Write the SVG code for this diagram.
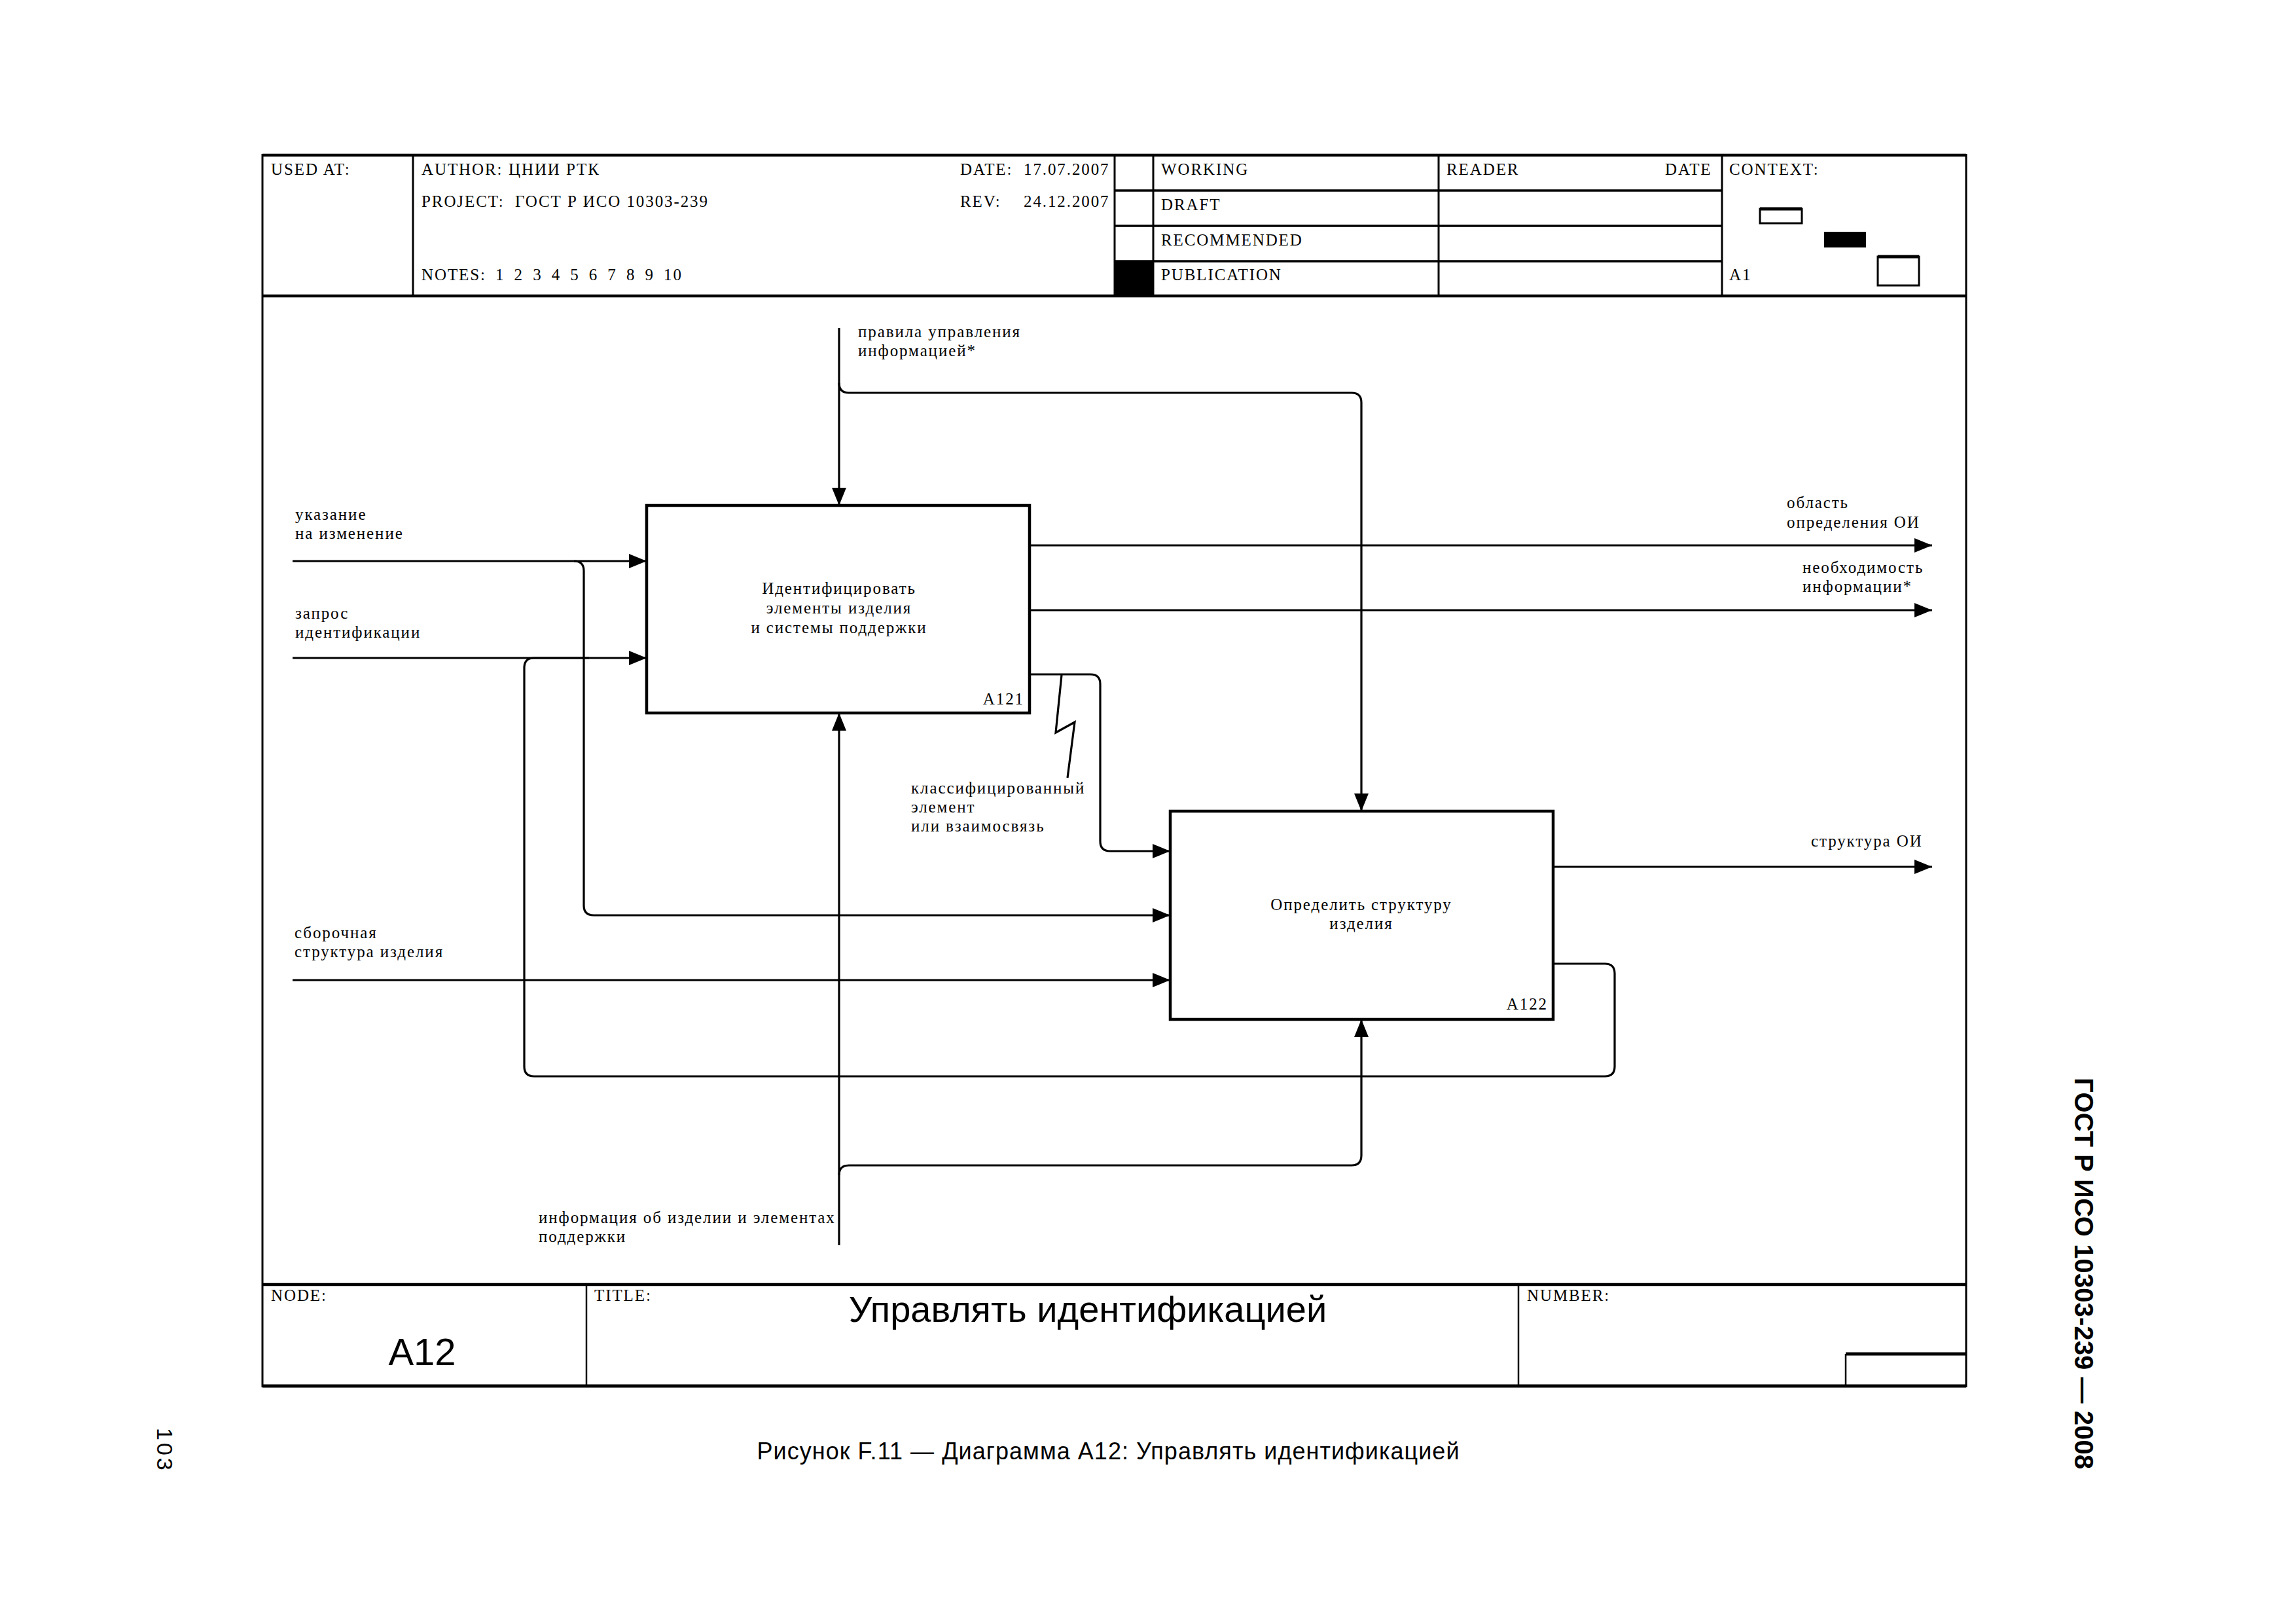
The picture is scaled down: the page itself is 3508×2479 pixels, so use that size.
<svg xmlns="http://www.w3.org/2000/svg" width="3508" height="2479" viewBox="0 0 3508 2479">
<style>
.t{font-family:"Liberation Serif","Times New Roman",serif;font-size:25px;letter-spacing:1.9px;fill:#000}
.m{text-anchor:middle}
.e{text-anchor:end}
.sans{font-family:"Liberation Sans",Arial,sans-serif;fill:#000}
.ln{stroke:#000;fill:none}
.c{fill:none;stroke:#000;stroke-width:3.2}
.box{fill:#fff;stroke:#000;stroke-width:4.5}
</style>
<defs>
<marker id="ah" markerUnits="userSpaceOnUse" markerWidth="27" markerHeight="22" refX="27" refY="11" orient="auto">
<path d="M0,0 L27,11 L0,22 z" fill="#000"/>
</marker>
</defs>
<rect width="3508" height="2479" fill="#fff"/>

<g id="frame">
<line class="ln" x1="401" y1="237" x2="3004" y2="237" stroke-width="4.5"/>
<line class="ln" x1="401" y1="452" x2="3004" y2="452" stroke-width="4.5"/>
<line class="ln" x1="401" y1="1962" x2="3004" y2="1962" stroke-width="4.5"/>
<line class="ln" x1="401" y1="2117" x2="3004" y2="2117" stroke-width="5"/>
<line class="ln" x1="401" y1="235" x2="401" y2="2119" stroke-width="3"/>
<line class="ln" x1="3004" y1="235" x2="3004" y2="2119" stroke-width="3"/>
<line class="ln" x1="631" y1="237" x2="631" y2="452" stroke-width="3"/>
<line class="ln" x1="1703" y1="237" x2="1703" y2="452" stroke-width="3"/>
<line class="ln" x1="1762" y1="237" x2="1762" y2="452" stroke-width="3"/>
<line class="ln" x1="2198" y1="237" x2="2198" y2="452" stroke-width="3"/>
<line class="ln" x1="2631" y1="237" x2="2631" y2="452" stroke-width="3"/>
<line class="ln" x1="1703" y1="291" x2="2631" y2="291" stroke-width="3.5"/>
<line class="ln" x1="1703" y1="345" x2="2631" y2="345" stroke-width="3.5"/>
<line class="ln" x1="1703" y1="399" x2="2631" y2="399" stroke-width="3.5"/>
<rect x="1703" y="399" width="59" height="53" fill="#000"/>
<rect x="2689" y="319" width="64" height="22" fill="none" stroke="#000" stroke-width="3"/>
<line class="ln" x1="2689" y1="319" x2="2753" y2="319" stroke-width="5"/>
<rect x="2787" y="354" width="64" height="24" fill="#000"/>
<rect x="2869" y="392" width="63" height="44" fill="none" stroke="#000" stroke-width="3"/>
<line class="ln" x1="2869" y1="392" x2="2932" y2="392" stroke-width="5"/>
<line class="ln" x1="896" y1="1962" x2="896" y2="2117" stroke-width="2.5"/>
<line class="ln" x1="2320" y1="1962" x2="2320" y2="2117" stroke-width="2.5"/>
<line class="ln" x1="2820" y1="2068" x2="2820" y2="2117" stroke-width="2.5"/>
<line class="ln" x1="2820" y1="2068" x2="3004" y2="2068" stroke-width="5"/>

<text class="t" x="414" y="267">USED AT:</text>
<text class="t" x="644" y="267">AUTHOR:</text>
<text class="t" x="777" y="267">ЦНИИ РТК</text>
<text class="t" x="644" y="316">PROJECT:</text>
<text class="t" x="787" y="316">ГОСТ Р ИСО 10303-239</text>
<text class="t" x="644" y="428" word-spacing="6">NOTES: 1 2 3 4 5 6 7 8 9 10</text>
<text class="t" x="1467" y="267">DATE:</text>
<text class="t" x="1564" y="267">17.07.2007</text>
<text class="t" x="1467" y="316">REV:</text>
<text class="t" x="1564" y="316">24.12.2007</text>
<text class="t" x="1774" y="267">WORKING</text>
<text class="t" x="1774" y="321">DRAFT</text>
<text class="t" x="1774" y="375">RECOMMENDED</text>
<text class="t" x="1774" y="428">PUBLICATION</text>
<text class="t" x="2210" y="267">READER</text>
<text class="t" x="2544" y="267">DATE</text>
<text class="t" x="2642" y="267">CONTEXT:</text>
<text class="t" x="2642" y="428">A1</text>
<text class="t" x="414" y="1987">NODE:</text>
<text class="t" x="908" y="1987">TITLE:</text>
<text class="t" x="2333" y="1987">NUMBER:</text>
<text class="sans m" x="645" y="2085" font-size="58">A12</text>
<text class="sans m" x="1662" y="2019" font-size="56">Управлять идентификацией</text>
</g>

<g id="A121">
<rect class="box" x="988" y="772" width="585" height="317"/>
<text class="t m" x="1282" y="907">Идентифицировать</text>
<text class="t m" x="1282" y="937">элементы изделия</text>
<text class="t m" x="1282" y="967">и системы поддержки</text>
<text class="t e" x="1565" y="1076">A121</text>
</g>

<g id="A122">
<rect class="box" x="1788" y="1239" width="585" height="318"/>
<text class="t m" x="2080" y="1390">Определить структуру</text>
<text class="t m" x="2080" y="1419">изделия</text>
<text class="t e" x="2365" y="1542">A122</text>
</g>

<g id="connectors">
<path class="c" d="M1282,501 V772" marker-end="url(#ah)"/>
<path class="c" d="M1282,585 Q1282,600 1297,600 H2065 Q2080,600 2080,615 V1239" marker-end="url(#ah)"/>
<path class="c" d="M1573,833 H2952" marker-end="url(#ah)"/>
<path class="c" d="M1573,932 H2952" marker-end="url(#ah)"/>
<path class="c" d="M1573,1030 H1666 Q1681,1030 1681,1045 V1285 Q1681,1300 1696,1300 H1788" marker-end="url(#ah)"/>
<path class="c" d="M1622,1031 L1613,1119 L1642,1103 L1631,1188" stroke-width="2.5"/>
<path class="c" d="M447,857 H988" marker-end="url(#ah)"/>
<path class="c" d="M877,857 Q892,857 892,872 V1383 Q892,1398 907,1398 H1788" marker-end="url(#ah)"/>
<path class="c" d="M447,1005 H988" marker-end="url(#ah)"/>
<path class="c" d="M2373,1472 H2452 Q2467,1472 2467,1487 V1629 Q2467,1644 2452,1644 H816 Q801,1644 801,1629 V1020 Q801,1005 816,1005 H900"/>
<path class="c" d="M447,1497 H1788" marker-end="url(#ah)"/>
<path class="c" d="M2373,1324 H2952" marker-end="url(#ah)"/>
<path class="c" d="M1282,1902 V1089" marker-end="url(#ah)"/>
<path class="c" d="M1282,1795 Q1282,1780 1297,1780 H2065 Q2080,1780 2080,1765 V1557" marker-end="url(#ah)"/>

<text class="t" x="451" y="794">указание</text>
<text class="t" x="451" y="823">на изменение</text>
<text class="t" x="451" y="945">запрос</text>
<text class="t" x="451" y="974">идентификации</text>
<text class="t" x="1311" y="515">правила управления</text>
<text class="t" x="1311" y="544">информацией*</text>
<text class="t" x="2730" y="776">область</text>
<text class="t" x="2730" y="806">определения ОИ</text>
<text class="t" x="2754" y="875">необходимость</text>
<text class="t" x="2754" y="904">информации*</text>
<text class="t" x="1392" y="1212">классифицированный</text>
<text class="t" x="1392" y="1241">элемент</text>
<text class="t" x="1392" y="1270">или взаимосвязь</text>
<text class="t" x="450" y="1433">сборочная</text>
<text class="t" x="450" y="1462">структура изделия</text>
<text class="t" x="2767" y="1293">структура ОИ</text>
<text class="t" x="823" y="1868">информация об изделии и элементах</text>
<text class="t" x="823" y="1897">поддержки</text>
</g>

<g id="page">
<text class="sans" transform="translate(3170,1646) rotate(90)" font-size="40" font-weight="bold" textLength="598" lengthAdjust="spacing">ГОСТ Р ИСО 10303-239 — 2008</text>
<text class="sans" transform="translate(240,2181) rotate(90)" font-size="34" letter-spacing="4">103</text>
<text class="sans m" x="1693" y="2229" font-size="36" textLength="1073" lengthAdjust="spacing">Рисунок F.11 — Диаграмма А12: Управлять идентификацией</text>
</g>
</svg>
